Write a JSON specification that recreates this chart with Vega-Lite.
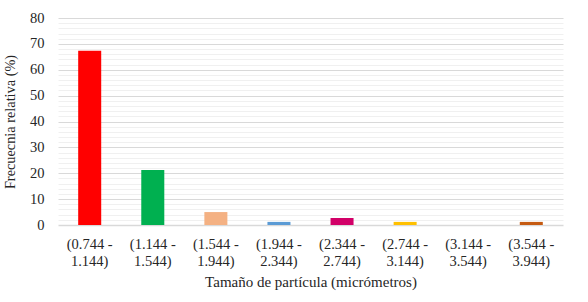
{
  "$schema": "https://vega.github.io/schema/vega-lite/v6.json",
  "autosize": {"type": "none"},
  "width": 505,
  "height": 207,
  "padding": {"left": 58, "top": 18, "right": 25, "bottom": 77},
  "background": "white",
  "config": {
    "view": {"stroke": null},
    "font": "Liberation Serif",
    "axis": {"labelFont": "Liberation Serif", "titleFont": "Liberation Serif", "labelColor": "#262626", "titleColor": "#262626", "titleFontWeight": "normal"}
  },
  "data": {
    "values": [
      {"rango": "(0.744 - 1.144)", "frecuencia": 67.3, "color": "#FF0000"},
      {"rango": "(1.144 - 1.544)", "frecuencia": 21.3, "color": "#00B050"},
      {"rango": "(1.544 - 1.944)", "frecuencia": 5.0, "color": "#F4B183"},
      {"rango": "(1.944 - 2.344)", "frecuencia": 1.2, "color": "#5B9BD5"},
      {"rango": "(2.344 - 2.744)", "frecuencia": 2.7, "color": "#D20068"},
      {"rango": "(2.744 - 3.144)", "frecuencia": 1.2, "color": "#FFC000"},
      {"rango": "(3.144 - 3.544)", "frecuencia": 0, "color": "#A5A5A5"},
      {"rango": "(3.544 - 3.944)", "frecuencia": 1.2, "color": "#C55A11"}
    ]
  },
  "mark": {"type": "bar"},
  "encoding": {
    "x": {
      "field": "rango", "type": "nominal", "sort": null,
      "scale": {"paddingInner": 0.635, "paddingOuter": 0.32},
      "axis": {
        "title": "Tamaño de partícula (micrómetros)",
        "titleFontSize": 15, "titlePadding": 7,
        "labelFontSize": 14.5, "labelAngle": 0, "labelPadding": 12,
        "labelExpr": "[slice(datum.label,0,8), slice(datum.label,9)]",
        "labelLineHeight": 17,
        "ticks": false, "domain": false, "grid": false
      }
    },
    "y": {
      "field": "frecuencia", "type": "quantitative",
      "scale": {"domain": [0, 80], "nice": false},
      "axis": {
        "title": "Frecuecnia relativa (%)",
        "titleFontSize": 14.3, "titlePadding": 12,
        "labelFontSize": 14.5, "labelPadding": 14,
        "values": [0,2,4,6,8,10,12,14,16,18,20,22,24,26,28,30,32,34,36,38,40,42,44,46,48,50,52,54,56,58,60,62,64,66,68,70,72,74,76,78,80],
        "labelExpr": "datum.value % 10 === 0 ? datum.label : ''",
        "ticks": false, "domain": false,
        "grid": true,
        "gridColor": {"condition": {"test": "datum.value % 10 === 0", "value": "#D9D9D9"}, "value": "#F0F0F0"},
        "gridWidth": {"condition": {"test": "datum.value === 0", "value": 1.5}, "value": 1}
      }
    },
    "color": {"field": "color", "type": "nominal", "scale": null, "legend": null}
  }
}
